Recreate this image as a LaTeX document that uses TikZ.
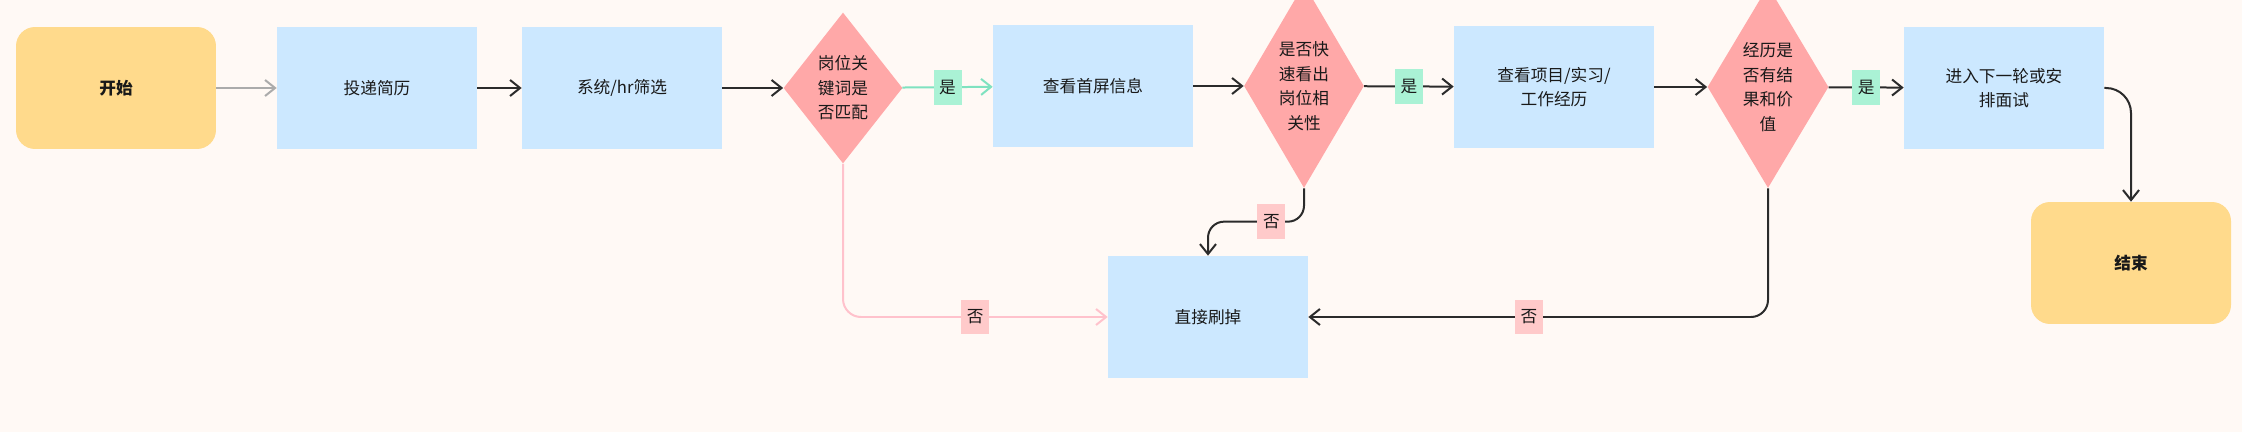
\documentclass[tikz,border=0pt]{standalone}
\usepackage{fontspec}
\setmainfont{Noto Sans CJK SC}
\usepackage{xcolor}
\usetikzlibrary{shapes.geometric,arrows.meta}
\definecolor{bgCream}{HTML}{FFF9F5}
\definecolor{termYellow}{HTML}{FFDA8C}
\definecolor{stepBlue}{HTML}{CCE8FF}
\definecolor{askRed}{HTML}{FFA8A8}
\definecolor{yesMint}{HTML}{AAF2D5}
\definecolor{noPink}{HTML}{FFCACA}
\definecolor{lineDark}{HTML}{2B2B2B}
\definecolor{lineGrey}{HTML}{ABABAB}
\definecolor{lineTeal}{HTML}{7FE2C0}
\definecolor{linePink}{HTML}{FFC2CC}

\begin{document}
\begin{tikzpicture}[x=0.02cm,y=-0.02cm,
  every node/.style={font=\fontsize{9.5}{14}\selectfont,text=black!90},
  term/.style={fill=termYellow,rounded corners=0.38cm,minimum width=4cm,minimum height=2.44cm,font=\fontsize{9.5}{14}\selectfont\bfseries},
  stepbox/.style={fill=stepBlue,minimum width=4cm,minimum height=2.44cm,align=center},
  ask/.style={diamond,fill=askRed,aspect=0.6,inner sep=0pt,align=center},
  yeslbl/.style={fill=yesMint,sharp corners,minimum width=0.56cm,minimum height=0.7cm,inner sep=0pt},
  nolbl/.style={fill=noPink,sharp corners,minimum width=0.56cm,minimum height=0.7cm,inner sep=0pt},
  flow/.style={-{Straight Barb[length=2mm,width=3.2mm]},line width=0.04cm,lineDark}]
  \useasboundingbox (0,0) rectangle (2242,432);
  \fill[bgCream] (0,0) rectangle (2242,432);
  \clip (0,0) rectangle (2242,432);

  % main row
  \node[term] (start) at (116,88) {开始};
  \node[stepbox] (submit) at (377,88) {投递简历};
  \node[stepbox] (screen) at (622,88) {系统/hr筛选};
  \node[ask,minimum width=2.38cm,minimum height=3.02cm] (kw) at (843,88) {岗位关\\键词是\\否匹配};
  \node[stepbox] (first) at (1093,86) {查看首屏信息};
  \node[ask,minimum width=2.4cm,minimum height=4.08cm] (fast) at (1304,86) {是否快\\速看出\\岗位相\\关性};
  \node[stepbox] (exp) at (1554,87) {查看项目/实习/\\工作经历};
  \node[ask,minimum width=2.42cm,minimum height=4.04cm] (worth) at (1768,87) {经历是\\否有结\\果和价\\值};
  \node[stepbox] (next) at (2004,88) {进入下一轮或安\\排面试};
  \node[term] (end) at (2131,263) {结束};
  \node[stepbox] (reject) at (1208,317) {直接刷掉};

  % yes path
  \draw[flow,lineGrey] (start) -- (submit);
  \draw[flow] (submit) -- (screen);
  \draw[flow] (screen) -- (kw);
  \draw[flow,lineTeal] (kw) -- node[yeslbl]{是} (first);
  \draw[flow] (first) -- (fast);
  \draw[flow] (fast) -- node[yeslbl]{是} (exp);
  \draw[flow] (exp) -- (worth);
  \draw[flow] (worth) -- node[yeslbl]{是} (next);
  \draw[flow,rounded corners=0.5cm] (next.east) -| (end.north);

  % no path
  \draw[flow,linePink,rounded corners=0.36cm] (kw.south) |- node[nolbl,pos=0.75]{否} (reject.west);
  \draw[flow,rounded corners=0.32cm] (fast.south) |- node[nolbl,pos=0.67]{否} ([yshift=0.68cm]reject.north) -- (reject.north);
  \draw[flow,rounded corners=0.34cm] (worth.south) |- node[nolbl,pos=0.76]{否} (reject.east);
\end{tikzpicture}
\end{document}
